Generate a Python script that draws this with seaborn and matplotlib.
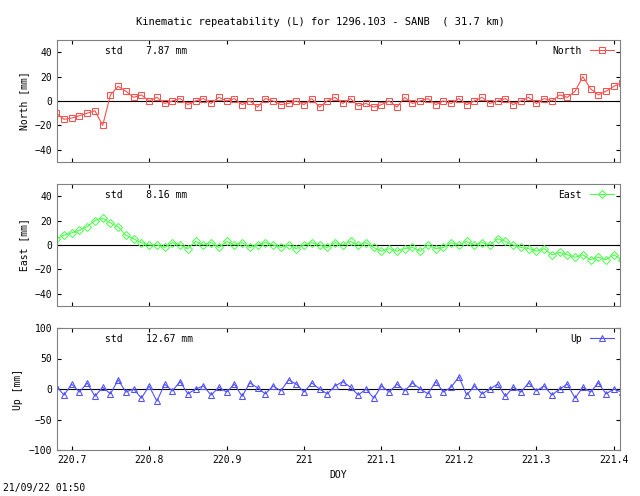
import numpy as np
import matplotlib
matplotlib.use("Agg")
import matplotlib.pyplot as plt
import seaborn as sns
import pandas as pd

north = [-10,-15,-14,-12,-10,-8,-20,5,12,8,3,5,0,3,-2,0,2,-3,0,2,-2,3,0,2,-3,0,-5,2,0,-3,-2,0,
         -3,2,-5,0,3,-2,2,-4,-2,-5,-3,0,-5,3,-2,0,2,-3,0,-2,2,-3,0,3,-2,0,2,-3,0,3,-2,2,0,5,3,8,20,10,5,8,12,15]
east = [5,8,10,12,15,20,22,18,15,8,5,2,0,0,-2,2,0,-3,3,0,2,-2,3,0,2,-2,0,2,0,-2,0,-3,
        0,2,0,-2,2,0,3,0,2,-2,-5,-3,-5,-3,-2,-5,0,-3,-2,2,0,3,0,2,0,5,3,0,-2,-3,-5,-3,-8,-6,-8,-10,-8,-12,-10,-12,-8,-12]
up = [5,-10,8,-5,10,-12,3,-8,15,-5,0,-15,5,-20,8,-3,12,-8,0,5,-10,3,-5,8,-12,10,2,-8,5,-3,15,8,-5,10,0,-8,
      5,12,3,-10,0,-15,5,-5,8,-3,10,0,-8,12,-5,3,20,-10,5,-8,0,8,-12,3,-5,10,-3,5,-10,0,8,-15,3,-5,10,-8,0,-5]
names = ["North", "East", "Up"]
stds = ["7.87", "8.16", "12.67"]
colors = ["#ff5050", "#50ff50", "#5050ff"]
markers = ["s", "D", "^"]
ylims = [(-50, 50), (-50, 50), (-100, 100)]
yticks = [[-40, -20, 0, 20, 40], [-40, -20, 0, 20, 40], [-100, -50, 0, 50, 100]]
xticks = [220.7, 220.8, 220.9, 221.0, 221.1, 221.2, 221.3, 221.4]
xlabels = ["220.7", "220.8", "220.9", "221", "221.1", "221.2", "221.3", "221.4"]

plt.rcParams["font.family"] = "DejaVu Sans Mono"
plt.rcParams["font.size"] = 7
fig = plt.figure(figsize=(6.4, 4.96), dpi=100)
fig.text(0.5, 1 - 22/496, "Kinematic repeatability (L) for 1296.103 - SANB  ( 31.7 km)", ha="center", va="center", fontsize=7.5)
fig.text(0.005, 0.01, "21/09/22 01:50", fontsize=7)
bottoms = [1-162/496, 1-306/496, 1-450/496]
for i, vals in enumerate([north, east, up]):
    ax = fig.add_axes([57/640, bottoms[i], 563/640, 122/496])
    df = pd.DataFrame({"doy": np.linspace(220.68, 221.41, len(vals)), "v": vals})
    sns.lineplot(data=df, x="doy", y="v", ax=ax, color=colors[i], lw=0.8, marker=markers[i],
                 markersize=4, markerfacecolor="none", markeredgecolor=colors[i], label=names[i])
    ax.axhline(0, color="black", lw=0.8, zorder=0)
    ax.set_xlim(220.681, 221.408)
    ax.set_ylim(*ylims[i])
    ax.set_yticks(yticks[i])
    ax.set_xticks(xticks)
    ax.set_xticklabels(xlabels if i == 2 else [])
    ax.set_ylabel(f"{names[i]} [mm]")
    ax.set_xlabel("DOY" if i == 2 else "")
    ax.tick_params(direction="in", top=True, right=True, length=3)
    for s in ax.spines.values():
        s.set_color("#808080")
    ax.text(0.085, 0.91, f"std    {stds[i]} mm", transform=ax.transAxes, va="center")
    ax.legend(loc="upper right", frameon=False, handlelength=2.5, borderaxespad=0.2, markerfirst=False)
fig.savefig("out.png", dpi=100)
